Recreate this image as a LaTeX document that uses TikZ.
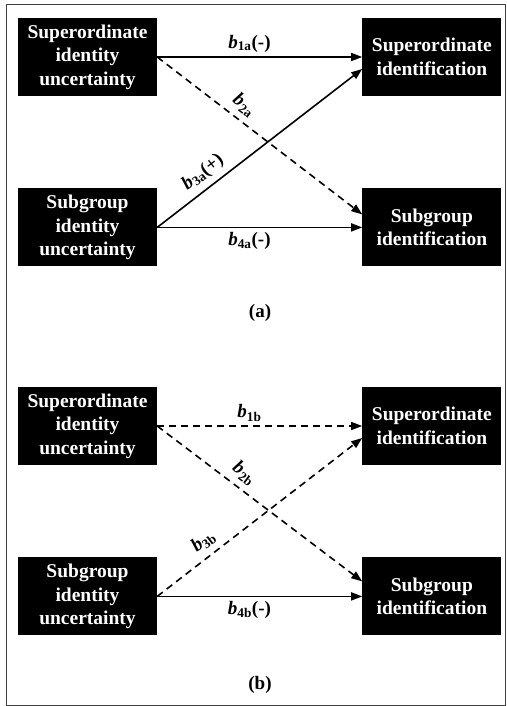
\documentclass[tikz,border=0pt]{standalone}
\usepackage{fontspec}
\setmainfont{Liberation Serif}
\usetikzlibrary{positioning, arrows.meta}

\begin{document}
\begin{tikzpicture}[x=1pt, y=-1pt,
      konstrukt/.style={fill=black, text=white, align=center, inner sep=0pt,
        font=\fontsize{19.5}{23.5}\selectfont\bfseries,
        minimum width=139pt, minimum height=78pt},
      pfeil/.style={-{Triangle[length=11pt, width=8pt]}, black, line width=1.6pt},
      strich/.style={pfeil, dash pattern=on 7pt off 5pt},
      koeff/.style={font=\fontsize{19}{21}\selectfont\bfseries, inner sep=4pt},
      teil/.style={font=\fontsize{19}{21}\selectfont\bfseries}]
    \useasboundingbox (0,0) rectangle (506,706);
    \draw[line width=1pt, black!75] (6,5) rectangle (505,705);

    % (a)
    \node[konstrukt] (unsichA) at (87.5,57) {Superordinate\\identity\\uncertainty};
    \node[konstrukt, right=205pt of unsichA] (identA) {Superordinate\\identification};
    \node[konstrukt, below=92pt of unsichA] (subunsA) {Subgroup\\identity\\uncertainty};
    \node[konstrukt, right=205pt of subunsA] (subidA) {Subgroup\\identification};
    \draw[pfeil] (unsichA.east) -- node[koeff, pos=0.45, above] {\textit{b}\textsubscript{1a}(-)} (identA.west);
    \draw[strich] (unsichA.east) -- node[koeff, pos=0.38, sloped, above=2pt] {\textit{b}\textsubscript{2a}} ([yshift=13pt]subidA.west);
    \draw[pfeil] (subunsA.east) -- node[koeff, pos=0.27, sloped, above=2pt] {\textit{b}\textsubscript{3a}(+)} ([yshift=-12pt]identA.west);
    \draw[pfeil] (subunsA.east) -- node[koeff, pos=0.45, below] {\textit{b}\textsubscript{4a}(-)} (subidA.west);
    \node[teil] (labA) at (260,313) {(a)};

    % (b)
    \node[konstrukt] (unsichB) at (87.5,426) {Superordinate\\identity\\uncertainty};
    \node[konstrukt, right=205pt of unsichB] (identB) {Superordinate\\identification};
    \node[konstrukt, below=92pt of unsichB] (subunsB) {Subgroup\\identity\\uncertainty};
    \node[konstrukt, right=205pt of subunsB] (subidB) {Subgroup\\identification};
    \draw[strich] (unsichB.east) -- node[koeff, pos=0.45, above] {\textit{b}\textsubscript{1b}} (identB.west);
    \draw[strich] (unsichB.east) -- node[koeff, pos=0.38, sloped, above=2pt] {\textit{b}\textsubscript{2b}} ([yshift=15pt]subidB.west);
    \draw[strich] (subunsB.east) -- node[koeff, pos=0.27, sloped, above=2pt] {\textit{b}\textsubscript{3b}} ([yshift=-12pt]identB.west);
    \draw[pfeil] (subunsB.east) -- node[koeff, pos=0.45, below] {\textit{b}\textsubscript{4b}(-)} (subidB.west);
    \node[teil] (labB) at (260,685) {(b)};
  \end{tikzpicture}
\end{document}
